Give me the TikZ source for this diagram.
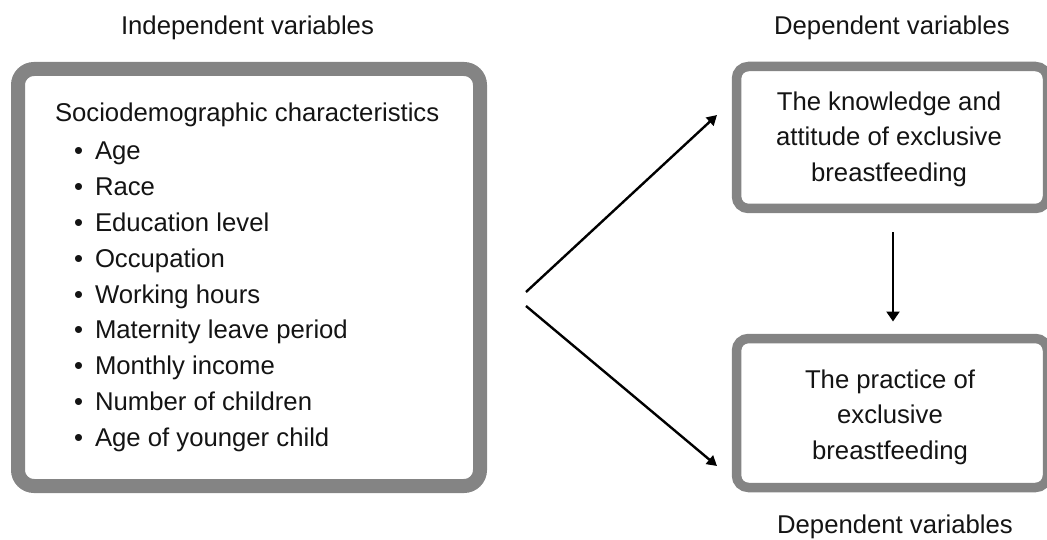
\documentclass[tikz,border=0pt]{standalone}
\usepackage{fontspec}
\setmainfont{Liberation Sans}
\usetikzlibrary{arrows.meta}
\definecolor{boxgray}{RGB}{132,132,132}
\definecolor{txt}{RGB}{20,20,20}
\begin{document}
\begin{tikzpicture}[x=1pt,y=-1pt,
  every node/.style={inner sep=0pt,outer sep=0pt,text=txt,font=\fontsize{25.7}{35.75}\selectfont},
  bigbox/.style={draw=boxgray,line width=14pt,rounded corners=16pt,fill=white},
  depbox/.style={draw=boxgray,line width=9.5pt,rounded corners=12pt,fill=white},
  lbl/.style={anchor=base},
  item/.style={anchor=base west},
  bul/.style={anchor=base},
  inbox/.style={anchor=north,align=center},
  conn/.style={line width=2.4pt,draw=black,-{Triangle[length=10pt,width=11pt]}}
]
\useasboundingbox (0,0) rectangle (1047,540);
% boxes
\node[bigbox,minimum width=462pt,minimum height=417pt] (big) at (249,277.5) {};
\node[depbox,minimum width=311pt,minimum height=142pt] (kbox) at (892,137.5) {};
\node[depbox,minimum width=311pt,minimum height=149pt] (pbox) at (892,413) {};
% headings
\node[lbl] (indep) at (247.5,35) {Independent variables};
\node[lbl] (deptop) at (892,35) {Dependent variables};
\node[lbl] (depbot) at (895,533) {Dependent variables};
% left box content
\node[item] (head) at (55,121.7) {Sociodemographic characteristics};
\foreach \t [count=\i] in {Age,Race,Education level,Occupation,Working hours,Maternity leave period,Monthly income,Number of children,Age of younger child}{
  \node[bul] (b\i) at (78.5,{160+(\i-1)*35.75}) {•};
  \node[item] (it\i) at (95,{160+(\i-1)*35.75}) {\t};
}
% right box texts
\node[inbox] (ktext) at (889,91.5) {The knowledge and\\attitude of exclusive\\breastfeeding};
\node[inbox] (ptext) at (890,369.5) {The practice of\\exclusive\\breastfeeding};
% connectors
\coordinate (s1) at (526,292);
\coordinate (e1) at (717,115);
\coordinate (s2) at (526,306);
\coordinate (e2) at (717,466);
\draw[conn] (s1) -- (e1);
\draw[conn] (s2) -- (e2);
\draw[conn,-{Triangle[length=10pt,width=13pt]},shorten <=24pt,shorten >=17pt] (kbox.south -| 893,0) -- (pbox.north -| 893,0);
\end{tikzpicture}
\end{document}
